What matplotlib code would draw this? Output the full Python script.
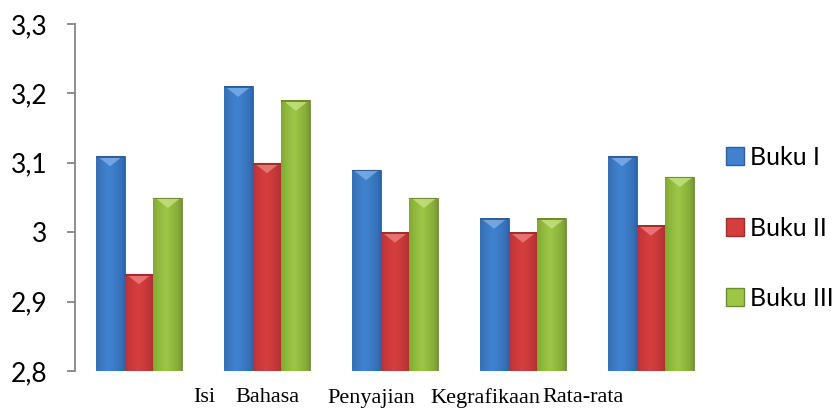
import numpy as np
import matplotlib
matplotlib.use("Agg")
import matplotlib.pyplot as plt
from matplotlib.patches import Polygon, Patch
from matplotlib.colors import to_rgb

categories = ["Isi", "Bahasa", "Penyajian", "Kegrafikaan", "Rata-rata"]
series_names = ["Buku I", "Buku II", "Buku III"]
buku1 = [3.11, 3.21, 3.09, 3.02, 3.11]
buku2 = [2.94, 3.10, 3.00, 3.00, 3.01]
buku3 = [3.05, 3.19, 3.05, 3.02, 3.08]
yticks = [2.8, 2.9, 3.0, 3.1, 3.2, 3.3]
ytick_labels = ["2,8", "2,9", "3", "3,1", "3,2", "3,3"]

# styling
mid_colors = ["#4082CF", "#D63E3E", "#9DC645"]
edge_colors = ["#2D609F", "#A22D2D", "#6E8E2E"]
light_colors = ["#86B6EE", "#F08A8A", "#CDE78A"]
# x label left edges in figure pixels (layout only)
label_left_px = [193, 235, 327, 430, 542]

W, H = 838, 412
fig = plt.figure(figsize=(W / 100, H / 100), dpi=100)
ax = fig.add_axes([75 / W, (H - 371) / H, 640 / W, (371 - 24) / H])
ax.set_xlim(-0.5, len(categories) - 0.5)
ax.set_ylim(2.8, 3.3)

bw = 0.226
x = np.arange(len(categories))
allvals = [buku1, buku2, buku3]
bevel = 0.015


def gradient_img(c_edge, c_mid):
    e = np.array(to_rgb(c_edge)); m = np.array(to_rgb(c_mid))
    t = np.linspace(0, 1, 64)
    prof = np.clip(1 - np.abs(t - 0.45) / 0.55, 0, 1) ** 0.5
    arr = e[None, :] * (1 - prof[:, None]) + m[None, :] * prof[:, None]
    return arr[None, :, :]


for i, vals in enumerate(allvals):
    offs = (i - 1) * bw
    bars = ax.bar(x + offs, np.array(vals) - 2.8, bottom=2.8, width=bw,
                  color=mid_colors[i], edgecolor=edge_colors[i], linewidth=0.6,
                  label=series_names[i], zorder=2)
    grad = gradient_img(edge_colors[i], mid_colors[i])
    for b in bars:
        x0, y0 = b.get_x(), b.get_y()
        w, h = b.get_width(), b.get_height()
        im = ax.imshow(grad, extent=[x0, x0 + w, y0, y0 + h], aspect="auto",
                       zorder=3, interpolation="bilinear")
        im.set_clip_path(b)
        tri = Polygon([[x0 + w * 0.04, y0 + h], [x0 + w * 0.96, y0 + h],
                       [x0 + w / 2, y0 + h - bevel]], closed=True,
                      facecolor=light_colors[i], edgecolor="none", alpha=0.7, zorder=4)
        ax.add_patch(tri)
        ax.add_patch(Polygon([[x0, y0 + h], [x0 + w, y0 + h], [x0 + w, y0 + h - 0.0025],
                              [x0, y0 + h - 0.0025]], closed=True,
                             facecolor=edge_colors[i], edgecolor="none", zorder=5))

for s in ["top", "right", "bottom"]:
    ax.spines[s].set_visible(False)
ax.spines["left"].set_color("#868686")
ax.spines["left"].set_linewidth(1.3)
ax.set_xticks([])
ax.set_yticks(yticks)
ax.set_yticklabels(ytick_labels, fontfamily="Lato", fontsize=19)
ax.tick_params(axis="y", length=6, width=1.3, color="#868686", pad=14)
ax.set_facecolor("white")

for lab, px in zip(categories, label_left_px):
    fig.text(px / W, (H - 398) / H, lab, ha="left", va="center",
             fontfamily="Liberation Serif", fontsize=16)

proxies = [Patch(facecolor=mid_colors[i], edgecolor=edge_colors[i]) for i in range(3)]
fig.legend(proxies, series_names, loc="center left", bbox_to_anchor=(726 / W, (H - 228) / H),
           frameon=False, prop={"family": "Lato", "size": 18}, labelspacing=1.9,
           handlelength=0.72, handleheight=0.72, handletextpad=0.25,
           borderpad=0, borderaxespad=0)

fig.savefig("out.png", dpi=100)
